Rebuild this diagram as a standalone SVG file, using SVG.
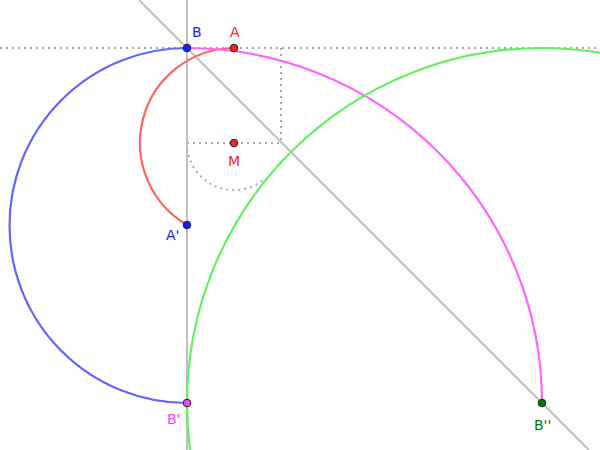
<svg xmlns="http://www.w3.org/2000/svg" width="600" height="450" viewBox="0 0 600 450">
<style>
.line{stroke:#c0c0c0;stroke-width:2;fill:none}
.dot{stroke:#a8a8a8;stroke-width:2;fill:none;stroke-dasharray:2 4}
.arc{fill:none;stroke-width:2.2}
.pt{stroke:#222;stroke-width:1}
.lbl{font-family:"DejaVu Sans","Liberation Sans",sans-serif;font-size:14px}
</style>
<rect width="600" height="450" fill="#fff"/>
<g id="connectors">
<line class="dot" x1="0" y1="48" x2="600" y2="48"/>
<line class="dot" x1="281" y1="48" x2="281" y2="143"/>
<line class="dot" x1="187" y1="143" x2="281" y2="143"/>
<path class="dot" d="M187,143 A47,47 0 0 0 262.5,180.5"/>
<line class="line" x1="187" y1="0" x2="187" y2="450"/>
<line class="line" x1="139" y1="0" x2="589" y2="450"/>
<path class="arc" stroke="#6464ff" d="M187,48 A177.5,177.5 0 0 0 187,403"/>
<path class="arc" stroke="#ff6464" d="M234,48 A95,95 0 0 0 187,225"/>
<path class="arc" stroke="#ff64ff" d="M187,48 A355,355 0 0 1 542,403"/>
<circle class="arc" stroke="#64f064" cx="542" cy="403" r="355"/>
</g>
<g id="B"><circle class="pt" cx="187" cy="48" r="3.8" fill="#1a1aff"/><text class="lbl" x="192" y="37" fill="#1a1aff">B</text></g>
<g id="A"><circle class="pt" cx="234" cy="48" r="3.8" fill="#ff2020"/><text class="lbl" x="230" y="37" fill="#ff2020">A</text></g>
<g id="M"><circle class="pt" cx="234" cy="143" r="3.8" fill="#ff2020"/><text class="lbl" x="228" y="166" fill="#ff2020">M</text></g>
<g id="A-prime"><circle class="pt" cx="187" cy="225" r="3.8" fill="#1a1aff"/><text class="lbl" x="166" y="240" fill="#1a1aff">A'</text></g>
<g id="B-prime"><circle class="pt" cx="187" cy="403" r="3.8" fill="#ff40ff"/><text class="lbl" x="167" y="424" fill="#ff40ff">B'</text></g>
<g id="B-dprime"><circle class="pt" cx="542" cy="403" r="3.8" fill="#007700"/><text class="lbl" x="534" y="430" fill="#007700">B''</text></g>
</svg>
